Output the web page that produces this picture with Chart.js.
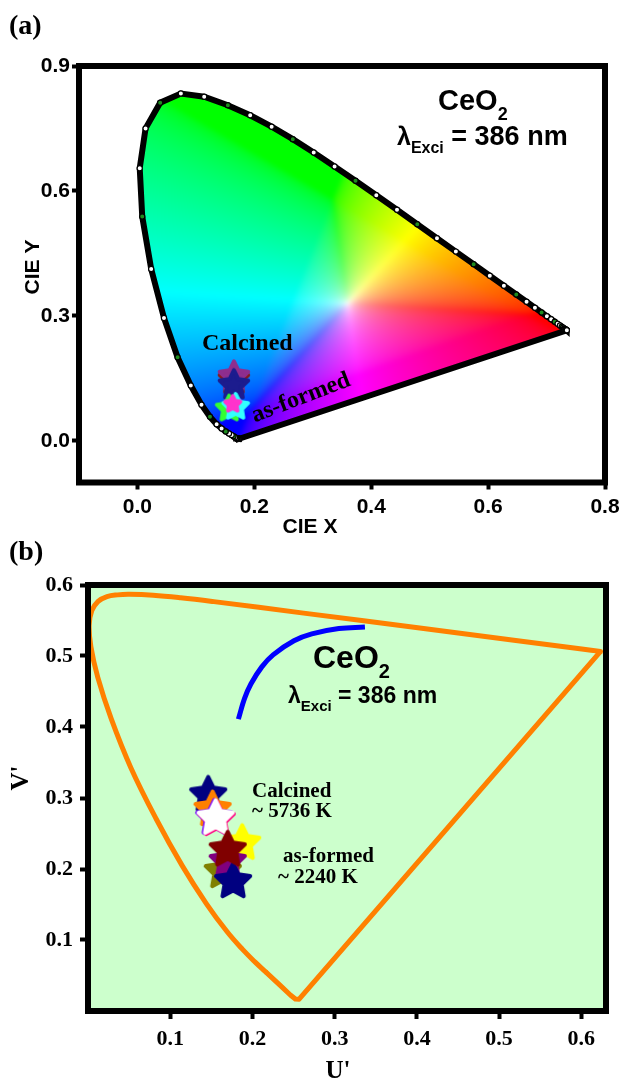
<!DOCTYPE html>
<html>
<head>
<meta charset="utf-8">
<title>CeO2 chromaticity</title>
<script src="https://cdn.jsdelivr.net/npm/chart.js@4.4.1/dist/chart.umd.min.js"></script>
<style>
  html, body { margin: 0; padding: 0; background: #fff; }
  #page { position: relative; width: 627px; height: 1085px; overflow: hidden; }
  canvas { position: absolute; left: 0; }
  #cA { top: 0; }
  #cB { top: 540px; }
  .panel { position: absolute; left: 9px; font: bold 28px "Liberation Serif", "Times New Roman", serif; line-height: 28px; color: #000; }
</style>
</head>
<body>
<div id="page">
  <canvas id="cA" width="627" height="540"></canvas>
  <canvas id="cB" width="627" height="545"></canvas>
  <div class="panel" style="top:11px">(a)</div>
  <div class="panel" style="top:537px">(b)</div>
</div>
<script>
// ---------- panel (a): CIE 1931 x,y ----------
// spectral locus, 380-700 nm in 5 nm steps
const cieX = [0.1741,0.1740,0.1738,0.1736,0.1733,0.1730,0.1726,0.1721,0.1714,
  0.1703,0.1689,0.1669,0.1644,0.1611,0.1566,0.1510,0.1440,0.1355,0.1241,
  0.1096,0.0913,0.0687,0.0454,0.0235,0.0082,0.0039,0.0139,0.0389,0.0743,
  0.1142,0.1547,0.1929,0.2296,0.2658,0.3016,0.3373,0.3731,0.4087,0.4441,
  0.4788,0.5125,0.5448,0.5752,0.6029,0.6270,0.6482,0.6658,0.6801,0.6915,
  0.7006,0.7079,0.7140,0.7190,0.7230,0.7260,0.7283,0.7300,0.7311,0.7320,
  0.7327,0.7334,0.7340,0.7344,0.7346,0.7347];
const cieY = [0.0050,0.0050,0.0049,0.0049,0.0048,0.0048,0.0048,0.0048,0.0051,
  0.0058,0.0069,0.0086,0.0109,0.0138,0.0177,0.0227,0.0297,0.0399,0.0578,
  0.0868,0.1327,0.2007,0.2950,0.4127,0.5384,0.6548,0.7502,0.8120,0.8338,
  0.8262,0.8059,0.7816,0.7543,0.7243,0.6923,0.6589,0.6245,0.5896,0.5547,
  0.5202,0.4866,0.4544,0.4242,0.3965,0.3725,0.3514,0.3340,0.3197,0.3083,
  0.2993,0.2920,0.2859,0.2809,0.2770,0.2740,0.2717,0.2700,0.2689,0.2680,
  0.2673,0.2666,0.2660,0.2656,0.2654,0.2653];
// sample colour coordinates (calcined group above, as-formed group below)
const samplesAX = [0.165, 0.165, 0.165, 0.157, 0.168, 0.163];
const samplesAY = [0.150, 0.158, 0.137, 0.080, 0.084, 0.090];
const samplesAColors = ['#8b1a1a', '#8e2e8e', '#1c1c8e', '#33ff33', '#33ffff', '#ff33cc'];
const samplesASizes = [17, 17, 17, 15, 15, 10];
const xTicksA = [0.0, 0.2, 0.4, 0.6, 0.8];
const yTicksA = [0.0, 0.3, 0.6, 0.9];

// ---------- panel (b): CIE 1976 u',v' ----------
// spectral locus 450-700 nm (curved part)
const uLocus = [0.2161,0.2033,0.1877,0.1690,0.1441,0.1147,0.0828,0.0521,0.0282,0.0119,
  0.0035,0.0014,0.0046,0.0123,0.0231,0.0360,0.0501,0.0792,0.1127,0.1531,
  0.2623,0.4035,0.5203,0.6005,0.6234];
const vLocus = [0.0550,0.0688,0.0871,0.1119,0.1510,0.2044,0.2708,0.3427,0.4117,0.4698,
  0.5131,0.5432,0.5638,0.5770,0.5837,0.5861,0.5868,0.5856,0.5821,0.5766,
  0.5604,0.5393,0.5219,0.5099,0.5065];
// purple line and short-wavelength end (700 nm -> 380 nm -> 450 nm)
const uEdge = [0.6234, 0.2568, 0.2522, 0.2461, 0.2347, 0.2161];
const vEdge = [0.5065, 0.0166, 0.0169, 0.0226, 0.0350, 0.0550];
// blackbody locus
const uPlanck = [0.1829,0.1903,0.1981,0.2114,0.2251,0.2505,0.2722,0.3051,0.3368];
const vPlanck = [0.4111,0.4400,0.4606,0.4847,0.5016,0.5214,0.5311,0.5386,0.5408];
// sample coordinates
const samplesBU = [0.1462, 0.1515, 0.1535, 0.1565, 0.1552, 0.1876, 0.1639, 0.1699, 0.1765, 0.1699];
const samplesBV = [0.3066, 0.2860, 0.2740, 0.2720, 0.2737, 0.2385, 0.1986, 0.2127, 0.1845, 0.2292];
const samplesBColors = ['#000080', '#ff8000', '#7a00ff', '#ff0080', '#ffffff', '#ffff00', '#808000', '#800080', '#000080', '#800000'];
const xTicksB = [0.1, 0.2, 0.3, 0.4, 0.5, 0.6];
const yTicksB = [0.1, 0.2, 0.3, 0.4, 0.5, 0.6];

const SANS = '"Liberation Sans", Arial, sans-serif';
const SANS_N = '"Liberation Sans Narrow", "Arial Narrow", "Liberation Sans", Arial, sans-serif';
const SERIF = '"Liberation Serif", "Times New Roman", serif';

// rounded five-point star used as a point style
function starImage(fill, R) {
  const pad = 3;
  const size = Math.ceil(2 * R + 2 * pad);
  const c = document.createElement('canvas');
  c.width = size; c.height = size;
  const g = c.getContext('2d');
  const cx = size / 2, cy = size / 2 + R * 0.08;
  const r0 = R - 2;
  g.beginPath();
  for (let k = 0; k < 10; k++) {
    const rr = k % 2 ? r0 * 0.5 : r0;
    const a = -Math.PI / 2 + k * Math.PI / 5;
    const px = cx + rr * Math.cos(a), py = cy + rr * Math.sin(a);
    k ? g.lineTo(px, py) : g.moveTo(px, py);
  }
  g.closePath();
  g.fillStyle = fill; g.fill();
  g.lineJoin = 'round'; g.lineWidth = 4; g.strokeStyle = fill; g.stroke();
  return c;
}

function drawRuns(ctx, x, y, runs) {
  ctx.save();
  ctx.fillStyle = '#000';
  ctx.textBaseline = 'alphabetic';
  ctx.textAlign = 'left';
  let cx = x;
  for (const r of runs) {
    ctx.font = r.font;
    ctx.fillText(r.t, cx, y + (r.dy || 0));
    cx += ctx.measureText(r.t).width;
  }
  ctx.restore();
}
function drawText(ctx, s, x, y, font, align, rot) {
  ctx.save();
  ctx.font = font; ctx.fillStyle = '#000';
  ctx.textAlign = align || 'left';
  ctx.textBaseline = rot !== undefined ? 'middle' : 'alphabetic';
  ctx.translate(x, y);
  if (rot) ctx.rotate(rot);
  ctx.fillText(s, 0, 0);
  ctx.restore();
}

const framePlugin = {
  id: 'frame',
  afterDatasetsDraw(chart) {
    const { ctx, chartArea: a } = chart;
    ctx.save();
    ctx.strokeStyle = '#000';
    ctx.lineWidth = 6;
    ctx.strokeRect(a.left, a.top, a.right - a.left, a.bottom - a.top);
    ctx.restore();
  }
};

// colour fill of the gamut, clipped to the spectral locus
const gamutFill = {
  id: 'gamutFill',
  beforeDatasetsDraw(chart) {
    const { ctx, chartArea: a, scales: { x: sx, y: sy } } = chart;
    const w = Math.round(a.right - a.left), h = Math.round(a.bottom - a.top);
    const off = document.createElement('canvas');
    off.width = w; off.height = h;
    const o = off.getContext('2d');
    const img = o.createImageData(w, h);
    const d = img.data;
    const gam = v => v <= 0.0031308 ? 12.92 * v : 1.055 * Math.pow(v, 1 / 2.4) - 0.055;
    // neutral point of the fill placed near x=0.36, y=0.33
    const kx = 0.9505 / (0.36 / 0.33), kz = 1.089 / (0.31 / 0.33);
    for (let j = 0; j < h; j++) {
      const cy = sy.getValueForPixel(a.top + j + 0.5);
      for (let i = 0; i < w; i++) {
        const k = (j * w + i) * 4;
        if (cy <= 0.002) { d[k + 3] = 0; continue; }
        const cx = sx.getValueForPixel(a.left + i + 0.5);
        const X = kx * cx / cy, Z = kz * (1 - cx - cy) / cy;
        let r = Math.max(0, 3.2406 * X - 1.5372 - 0.4986 * Z);
        let g = Math.max(0, -0.9689 * X + 1.8758 + 0.0415 * Z);
        let b = Math.max(0, 0.0557 * X - 0.2040 + 1.0570 * Z);
        const m = Math.max(r, g, b) || 1;
        r /= m; g /= m; b /= m;
        const mn = Math.min(r, g, b) * 0.82;
        r = (r - mn) / (1 - mn); g = (g - mn) / (1 - mn); b = (b - mn) / (1 - mn);
        d[k] = 255 * gam(r); d[k + 1] = 255 * gam(g); d[k + 2] = 255 * gam(b); d[k + 3] = 255;
      }
    }
    o.putImageData(img, 0, 0);
    ctx.save();
    ctx.beginPath();
    cieX.forEach((v, i) => {
      const px = sx.getPixelForValue(v), py = sy.getPixelForValue(cieY[i]);
      i ? ctx.lineTo(px, py) : ctx.moveTo(px, py);
    });
    ctx.closePath();
    ctx.clip();
    ctx.filter = 'blur(2px)';
    ctx.drawImage(off, a.left, a.top);
    ctx.restore();
  }
};

const notesA = {
  id: 'notesA',
  afterDraw(chart) {
    const ctx = chart.ctx;
    drawRuns(ctx, 438, 110, [
      { t: 'CeO', font: 'bold 29px ' + SANS },
      { t: '2', font: 'bold 18px ' + SANS, dy: 10 }
    ]);
    drawRuns(ctx, 397, 145, [
      { t: 'λ', font: 'bold 25px ' + SANS },
      { t: 'Exci', font: 'bold 16px ' + SANS, dy: 8 },
      { t: ' = 386 nm', font: 'bold 27px ' + SANS }
    ]);
    drawText(ctx, 'Calcined', 202, 350, 'bold 24px ' + SERIF);
    drawText(ctx, 'as-formed', 301, 398, 'bold 24px ' + SERIF, 'center', -21 * Math.PI / 180);
    drawText(ctx, 'CIE Y', 33, 267, 'bold 21px ' + SANS_N, 'center', -Math.PI / 2);
    drawText(ctx, 'CIE X', 310, 527, 'bold 21px ' + SANS_N, 'center', 0);
  }
};

const bgB = {
  id: 'bgB',
  beforeDatasetsDraw(chart) {
    const { ctx, chartArea: a } = chart;
    ctx.save();
    ctx.fillStyle = '#ccffcc';
    ctx.fillRect(a.left, a.top, a.right - a.left, a.bottom - a.top);
    ctx.restore();
  }
};

const notesB = {
  id: 'notesB',
  afterDraw(chart) {
    const ctx = chart.ctx;
    drawRuns(ctx, 313, 128, [
      { t: 'CeO', font: 'bold 32px ' + SANS },
      { t: '2', font: 'bold 20px ' + SANS, dy: 10 }
    ]);
    drawRuns(ctx, 288, 163, [
      { t: 'λ', font: 'bold 23px ' + SANS },
      { t: 'Exci', font: 'bold 15px ' + SANS, dy: 8 },
      { t: ' = 386 nm', font: 'bold 23px ' + SANS }
    ]);
    const f = 'bold 21px ' + SERIF;
    drawText(ctx, 'Calcined', 252, 257, f);
    drawText(ctx, '~ 5736 K', 252, 277, f);
    drawText(ctx, 'as-formed', 283, 322, f);
    drawText(ctx, '~ 2240 K', 278, 343, f);
    drawText(ctx, "V'", 22, 238, 'bold 25px ' + SERIF, 'center', -Math.PI / 2);
    drawText(ctx, "U'", 338, 532, 'bold 25px ' + SERIF, 'center', 0);
  }
};

function axis(min, max, ticks, fit, font, tickLen, pad) {
  return {
    type: 'linear', min, max,
    afterBuildTicks: s => { s.ticks = ticks.map(v => ({ value: v })); },
    afterFit: fit,
    grid: { drawOnChartArea: false, drawTicks: true, tickLength: tickLen, tickWidth: 4, tickColor: '#000' },
    border: { display: false },
    ticks: { color: '#000', font, padding: pad, autoSkip: false, maxRotation: 0,
      callback: v => Number(v).toFixed(1) }
  };
}

const locusPts = cieX.map((x, i) => ({ x, y: cieY[i] })).concat([{ x: cieX[0], y: cieY[0] }]);
const dotFill = locusPts.map((p, i) => (i % 3 === 0 ? '#1e8c1e' : '#ffffff'));
const dotSize = locusPts.map((p, i) => (i === locusPts.length - 1 ? 0 : 2.6));

new Chart(document.getElementById('cA'), {
  type: 'scatter',
  data: {
    datasets: [
      { label: 'spectral locus', type: 'line', data: locusPts, order: 2,
        borderColor: '#000', borderWidth: 6, tension: 0, fill: false,
        pointRadius: dotSize, pointBackgroundColor: dotFill, pointBorderColor: '#000', pointBorderWidth: 1.2 },
      { label: 'samples', data: samplesAX.map((x, i) => ({ x, y: samplesAY[i] })), order: 1,
        pointStyle: samplesAColors.map((c, i) => starImage(c, samplesASizes[i])),
        pointRadius: samplesASizes }
    ]
  },
  options: {
    responsive: false, animation: false, events: [],
    layout: { padding: { left: 0, top: 66, right: 22, bottom: 0 } },
    plugins: { legend: { display: false }, tooltip: { enabled: false } },
    scales: {
      x: axis(-0.1, 0.8, xTicksA, s => { s.height = 57.5; }, { family: SANS_N, size: 21, weight: 'bold' }, 7, 5),
      y: axis(-0.1, 0.9, yTicksA, s => { s.width = 79; }, { family: SANS_N, size: 21, weight: 'bold' }, 7, 2)
    }
  },
  plugins: [gamutFill, framePlugin, notesA]
});

new Chart(document.getElementById('cB'), {
  type: 'scatter',
  data: {
    datasets: [
      { label: 'spectral locus', type: 'line', data: uLocus.map((u, i) => ({ x: u, y: vLocus[i] })), order: 3,
        borderColor: '#ff8000', borderWidth: 5, tension: 0.4, pointRadius: 0, fill: false, borderCapStyle: 'round' },
      { label: 'purple line', type: 'line', data: uEdge.map((u, i) => ({ x: u, y: vEdge[i] })), order: 3,
        borderColor: '#ff8000', borderWidth: 5, tension: 0, pointRadius: 0, fill: false, borderJoinStyle: 'round' },
      { label: 'blackbody locus', type: 'line', data: uPlanck.map((u, i) => ({ x: u, y: vPlanck[i] })), order: 2,
        borderColor: '#0000ff', borderWidth: 5, tension: 0.4, pointRadius: 0, fill: false },
      { label: 'samples', data: samplesBU.map((u, i) => ({ x: u, y: samplesBV[i] })), order: 1,
        pointStyle: samplesBColors.map(c => starImage(c, 20)), pointRadius: 20 }
    ]
  },
  options: {
    responsive: false, animation: false, events: [],
    layout: { padding: { left: 0, top: 45, right: 6, bottom: 0 } },
    plugins: { legend: { display: false }, tooltip: { enabled: false } },
    scales: {
      x: axis(0, 0.63, xTicksB, s => { s.height = 74; }, { family: SERIF, size: 22, weight: 'bold' }, 8, 7),
      y: axis(0, 0.6, yTicksB, s => { s.width = 88; }, { family: SERIF, size: 22, weight: 'bold' }, 8, 7)
    }
  },
  plugins: [bgB, framePlugin, notesB]
});
</script>
</body>
</html>
